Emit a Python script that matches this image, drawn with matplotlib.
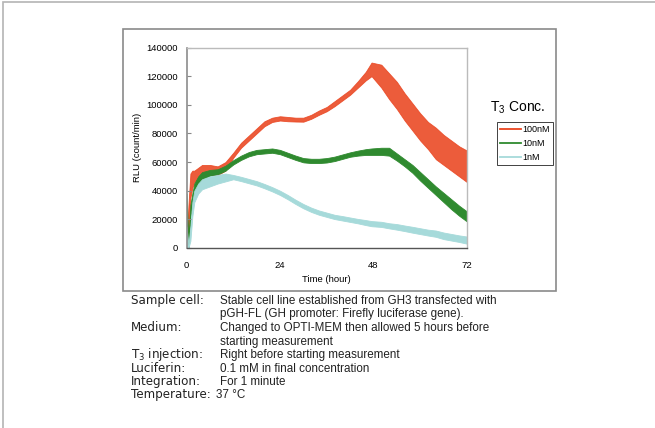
"""
plot.py
-------
Real-time luciferase reporter assay of GH promoter activity in GH3 cells
after T3 addition (100 nM / 10 nM / 1 nM), with the assay conditions below.
"""

import matplotlib
matplotlib.use("Agg")
import matplotlib.pyplot as plt
from matplotlib.patches import Rectangle

plt.rcParams["font.family"] = ["Liberation Sans", "DejaVu Sans"]
plt.rcParams["mathtext.default"] = "regular"

time_h = [0, 0.5, 1, 1.5, 2, 3, 4, 6, 8, 10, 12, 14, 16, 18, 20, 22, 24, 26,
          28, 30, 32, 34, 36, 38, 40, 42, 44, 46, 47.5, 50, 52, 54, 56, 58,
          60, 62, 64, 66, 68, 70, 72]

# upper / lower edge of each noisy trace, RLU (count/min)
red_hi = [2000, 30000, 52000, 54000, 54000, 56000, 58000, 58000, 57000,
          60000, 66500, 73500, 78500, 83500, 88500, 91000, 92000, 91500,
          91000, 91000, 93000, 96000, 98500, 102500, 106500, 110500, 116500,
          123000, 129500, 128000, 122000, 116000, 108000, 101000, 94000,
          88000, 84000, 79000, 75000, 71000, 68000]
red_lo = [0, 0, 35000, 42000, 46000, 48000, 51000, 51000, 51000, 54000,
          63000, 70000, 75000, 80000, 85000, 88000, 89000, 88500, 88300,
          88200, 90200, 93000, 95500, 99000, 103000, 107000, 112000, 117000,
          120000, 112000, 104000, 97000, 89000, 82000, 75000, 69000, 62000,
          58000, 54000, 50000, 46000]

green_hi = [38000, 5000, 30000, 38000, 45000, 50000, 53000, 54500, 55000,
            57500, 61300, 64500, 67000, 68500, 69000, 69500, 68500, 66500,
            64500, 62800, 62300, 62300, 62800, 63800, 65300, 66800, 68000,
            69000, 69500, 70000, 70000, 66000, 62000, 58000, 53000, 48000,
            43000, 38500, 34000, 29500, 25500]
green_lo = [0, 0, 22000, 30000, 38000, 44000, 48000, 50500, 51500, 54000,
            58300, 61500, 64000, 65500, 66000, 66500, 65500, 63500, 61500,
            59800, 59300, 59300, 59700, 60700, 62200, 63700, 64500, 65000,
            65000, 65000, 64500, 61000, 57000, 52500, 47000, 42000, 37000,
            32000, 27000, 22500, 18500]

blue_hi = [15000, 2000, 15000, 32000, 40000, 45000, 48000, 50000, 51000,
           52000, 51000, 49700, 48200, 46700, 44700, 42500, 40000, 37000,
           33700, 30700, 28200, 26200, 24700, 23200, 22300, 21300, 20300,
           19500, 18800, 18300, 17300, 16700, 15700, 14800, 13800, 12800,
           12200, 10800, 9800, 8800, 8000]
blue_lo = [0, 0, 5000, 22000, 32000, 38000, 41000, 43000, 45000, 46500,
           48000, 46700, 45200, 43700, 41700, 39500, 37000, 34000, 30700,
           27700, 25200, 23200, 21700, 20200, 19200, 18200, 17200, 16000,
           15200, 14700, 13700, 12800, 11800, 10700, 9700, 8700, 7800, 6200,
           5200, 4200, 3000]

series_labels = ["100nM", "10nM", "1nM"]
series_colors = ["#ea4520", "#2f8a2f", "#a6dada"]

x_ticks = [0, 24, 48, 72]
y_ticks = [0, 20000, 40000, 60000, 80000, 100000, 120000, 140000]

cond_keys = ["Sample cell:", "", "Medium:", "", "T$_3$ injection:",
             "Luciferin:", "Integration:", "Temperature:"]
cond_vals = ["Stable cell line established from GH3 transfected with",
             "pGH-FL (GH promoter: Firefly luciferase gene).",
             "Changed to OPTI-MEM then allowed 5 hours before",
             "starting measurement",
             "Right before starting measurement",
             "0.1 mM in final concentration",
             "For 1 minute",
             "37 \u00b0C"]

W, H = 655, 428


def px(x, y):
    """pixel position (from top-left) -> figure fraction"""
    return x / W, 1 - y / H


def main():
    fig = plt.figure(figsize=(W / 100, H / 100), dpi=100)

    # page frame (only top and left edges fall inside the picture)
    fig.add_artist(Rectangle((3 / W, -0.1), 1.2, 1.1 - 2 / H,
                             transform=fig.transFigure, fill=False,
                             ec="#b4b4b4", lw=1.2))
    # chart frame
    x0, y0 = px(123, 291)
    fig.add_artist(Rectangle((x0, y0), 433 / W, 262 / H,
                             transform=fig.transFigure, fill=False,
                             ec="#8a8a8a", lw=1.2))

    ax = fig.add_axes([186.5 / W, 1 - 248 / H, 280.5 / W, 200.5 / H])

    bands = [(red_lo, red_hi, 0.88), (green_lo, green_hi, 1.0),
             (blue_lo, blue_hi, 1.0)]
    handles = []
    for (lo, hi, a), label, color in zip(bands, series_labels, series_colors):
        ax.fill_between(time_h, lo, hi, color=color, alpha=a, lw=0.6,
                        edgecolor=color)
        h, = ax.plot([], [], color=color, lw=1.3, label=label)
        handles.append(h)

    ax.set_xlim(0, 72)
    ax.set_ylim(0, 140000)
    ax.set_xticks(x_ticks)
    ax.set_yticks(y_ticks)
    ax.tick_params(axis="x", length=0, pad=9, labelsize=6.8)
    ax.tick_params(axis="y", direction="in", length=3, width=0.8, pad=6,
                   labelsize=6.8, color="#888888")
    ax.spines["left"].set_color("#8c8c8c")
    ax.spines["left"].set_linewidth(1.2)
    ax.spines["bottom"].set_color("#555555")
    ax.spines["bottom"].set_linewidth(1.0)
    for s in ["top", "right"]:
        ax.spines[s].set_color("#bbbbbb")
        ax.spines[s].set_linewidth(1.0)
    ax.set_xlabel("Time (hour)", fontsize=6.8, labelpad=4)
    ax.set_ylabel("RLU (count/min)", fontsize=6.8, labelpad=3)

    # legend: title sits above the box
    fig.text(*px(490, 108), "T$_3$ Conc.", fontsize=10, va="center")
    fig.legend(handles=handles, loc="upper left",
               bbox_to_anchor=px(497, 122), fontsize=6.5, frameon=True,
               fancybox=False, edgecolor="#222222", framealpha=1,
               handlelength=2.3, handletextpad=0.2, labelspacing=0.55,
               borderpad=0.35, borderaxespad=0)
    fig.legends[0].get_frame().set_linewidth(0.6)

    # assay conditions (positions are text baselines)
    line_y = [304, 317.5, 331, 344.5, 358, 371.5, 385, 398]
    for key, val, y in zip(cond_keys, cond_vals, line_y):
        if key:
            fig.text(*px(131, y), key, fontsize=8.6, va="baseline",
                     color="#222222", family="DejaVu Sans")
        xv = 216 if key == "Temperature:" else 220
        fig.text(*px(xv, y), val, fontsize=8.4, va="baseline",
                 color="#222222")

    fig.savefig("out.png", dpi=100)
    plt.close(fig)


if __name__ == "__main__":
    main()
